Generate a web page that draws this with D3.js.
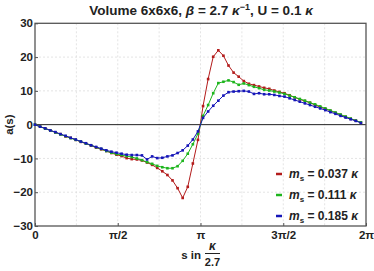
<!DOCTYPE html>
<html>
<head>
<meta charset="UTF-8">
<script src="https://d3js.org/d3.v7.min.js"></script>
<style>
  body { margin: 0; background: #fff; }
  text { font-family: "Liberation Sans", Arial, sans-serif; font-weight: bold; fill: #222; }
</style>
</head>
<body>
<svg width="374" height="271"></svg>
<script>
// grid of s values (65 lattice points over one period)
const nPts = 65;
const sVals = d3.range(nPts).map(k => k * 2 * Math.PI / nPts);

const redVals = [0, -0.6, -1.1, -1.7, -2.3, -2.8, -3.5, -3.9, -4.5, -5.1, -5.6, -6.2, -6.8, -7.3, -7.8, -8.4,
  -8.9, -9.3, -9.9, -10.2, -10.3, -10.6, -11.2, -11.9, -12.8, -13.8, -14.9, -16.5, -18.8, -21.7, -18.4, -11.5, -4.5,
  5.5, 13.5, 20.1, 22.0, 20.4, 17.5, 15.4, 14.2, 12.9, 12.1, 11.7, 11.3, 10.9, 10.6, 10.1, 9.7, 9.3, 8.7,
  8.1, 7.5, 7.0, 6.5, 5.8, 5.2, 4.7, 4.1, 3.5, 2.9, 2.3, 1.7, 1.2, 0.6];
const greenVals = [0, -0.6, -1.2, -1.7, -2.3, -2.9, -3.4, -4.0, -4.5, -5.0, -5.6, -6.1, -6.7, -7.2, -7.8, -8.3,
  -8.7, -9.0, -9.3, -9.6, -10.0, -10.5, -11.1, -11.6, -12.2, -12.6, -12.9, -12.9, -12.3, -10.7, -8.6, -5.8, -2.7,
  2.6, 5.8, 9.3, 12.3, 12.7, 13.1, 12.6, 11.8, 12.2, 11.7, 11.2, 10.8, 10.3, 10.1, 9.8, 9.5, 9.1, 8.6,
  8.1, 7.6, 7.1, 6.5, 6.0, 5.4, 4.8, 4.2, 3.6, 3.0, 2.4, 1.8, 1.2, 0.7];
const blueVals = [0, -0.6, -1.1, -1.7, -2.2, -2.8, -3.3, -3.9, -4.4, -5.0, -5.5, -6.1, -6.6, -7.1, -7.6, -8.0,
  -8.3, -8.6, -8.9, -9.0, -9.0, -9.1, -10.3, -9.4, -9.9, -9.8, -9.4, -9.1, -8.4, -7.6, -6.2, -4.4, -2.0,
  2.0, 3.9, 5.6, 7.1, 8.6, 9.6, 9.8, 9.9, 10.0, 9.8, 9.1, 9.3, 9.0, 9.0, 8.8, 8.5, 8.3, 7.8,
  7.3, 6.8, 6.3, 5.8, 5.3, 4.8, 4.3, 3.7, 3.2, 2.6, 2.1, 1.6, 1.1, 0.5];

const seriesNames = ["0.037", "0.111", "0.185"];
const seriesColors = ["#b31b1b", "#1db51d", "#1616b8"];
const seriesVals = [redVals, greenVals, blueVals];

const xTickVals = [0, Math.PI / 2, Math.PI, 3 * Math.PI / 2, 2 * Math.PI];
const xTickLabels = ["0", "π/2", "π", "3π/2", "2π"];
const yTickVals = [-30, -20, -10, 0, 10, 20, 30];

const svg = d3.select("svg");
const plotL = 35, plotR = 366, plotT = 23.3, plotB = 226;

const x = d3.scaleLinear().domain([0, 2 * Math.PI]).range([plotL, plotR]);
const y = d3.scaleLinear().domain([-30, 30]).range([plotB, plotT]);

// grid lines
const gridX = d3.range(1, 8).map(i => i * Math.PI / 4);
svg.append("g").selectAll("line").data(gridX).join("line")
  .attr("x1", d => x(d)).attr("x2", d => x(d))
  .attr("y1", plotT).attr("y2", plotB)
  .attr("stroke", "#ddd").attr("stroke-dasharray", "2,2").attr("stroke-width", 0.8);
svg.append("g").selectAll("line").data([-20, -10, 10, 20]).join("line")
  .attr("x1", plotL).attr("x2", plotR)
  .attr("y1", d => y(d)).attr("y2", d => y(d))
  .attr("stroke", "#ddd").attr("stroke-dasharray", "2,2").attr("stroke-width", 0.8);

// zero line
svg.append("line")
  .attr("x1", plotL).attr("x2", plotR)
  .attr("y1", y(0)).attr("y2", y(0))
  .attr("stroke", "#222").attr("stroke-width", 1);

// axes (ticks drawn inward)
const xAxis = svg.append("g")
  .attr("transform", `translate(0,${plotB})`)
  .call(d3.axisBottom(x).tickValues(xTickVals).tickFormat((d, i) => xTickLabels[i]).tickSize(-3).tickPadding(5));
const yAxis = svg.append("g")
  .attr("transform", `translate(${plotL},0)`)
  .call(d3.axisLeft(y).tickValues(yTickVals).tickFormat(d => d < 0 ? "\u2212" + Math.abs(d) : d).tickSize(-3).tickPadding(2));
[xAxis, yAxis].forEach(g => {
  g.select(".domain").remove();
  g.selectAll(".tick line").attr("stroke", "#555");
  g.selectAll(".tick text").attr("font-size", 11.5).attr("font-family", "Liberation Sans, Arial, sans-serif")
    .attr("font-weight", "bold").attr("fill", "#222");
});
xAxis.selectAll(".tick text").attr("dy", "0.71em").attr("y", 5);

// frame
svg.append("rect")
  .attr("x", plotL).attr("y", plotT)
  .attr("width", plotR - plotL).attr("height", plotB - plotT)
  .attr("fill", "none").attr("stroke", "#555").attr("stroke-width", 1.3);

// series
const line = d3.line().x((d, i) => x(sVals[i])).y(d => y(d));
seriesVals.forEach((vals, si) => {
  svg.append("path").datum(vals)
    .attr("d", line)
    .attr("fill", "none")
    .attr("stroke", seriesColors[si])
    .attr("stroke-width", 1);
  svg.append("g").selectAll("rect").data(vals).join("rect")
    .attr("x", (d, i) => x(sVals[i]) - 1.3)
    .attr("y", d => y(d) - 1.3)
    .attr("width", 2.6).attr("height", 2.6)
    .attr("fill", seriesColors[si]);
});

// title
const title = svg.append("text").attr("x", 201).attr("y", 15).attr("text-anchor", "middle").attr("font-size", 13.5);
title.append("tspan").text("Volume 6x6x6, ");
title.append("tspan").attr("font-style", "italic").text("β");
title.append("tspan").text(" = 2.7 ");
title.append("tspan").attr("font-style", "italic").text("κ");
title.append("tspan").attr("font-size", 9).attr("dy", -5).text("−1");
title.append("tspan").attr("dy", 5).text(", U = 0.1 ");
title.append("tspan").attr("font-style", "italic").text("κ");

// y label
svg.append("text")
  .attr("transform", `translate(13,${y(0)}) rotate(-90)`)
  .attr("text-anchor", "middle").attr("font-size", 11.5)
  .text("a(s)");

// x label
svg.append("text").attr("x", 201).attr("y", 259).attr("text-anchor", "end").attr("font-size", 11.5).text("s in");
svg.append("text").attr("x", 212.5).attr("y", 250).attr("text-anchor", "middle").attr("font-size", 12)
  .attr("font-style", "italic").text("κ");
svg.append("line").attr("x1", 205).attr("x2", 220).attr("y1", 253.5).attr("y2", 253.5)
  .attr("stroke", "#222").attr("stroke-width", 1);
svg.append("text").attr("x", 212.5).attr("y", 266).attr("text-anchor", "middle").attr("font-size", 11).text("2.7");

// legend
const legY = [174, 195, 216];
seriesNames.forEach((name, i) => {
  svg.append("line")
    .attr("x1", 276).attr("x2", 282)
    .attr("y1", legY[i]).attr("y2", legY[i])
    .attr("stroke", seriesColors[i]).attr("stroke-width", 2.5);
  const t = svg.append("text").attr("x", 289).attr("y", legY[i] + 4).attr("font-size", 12);
  t.append("tspan").attr("font-style", "italic").text("m");
  t.append("tspan").attr("font-size", 8).attr("dy", 2.5).text("s");
  t.append("tspan").attr("dy", -2.5).text(" = " + name + " ");
  t.append("tspan").attr("font-style", "italic").text("κ");
});
</script>
</body>
</html>
